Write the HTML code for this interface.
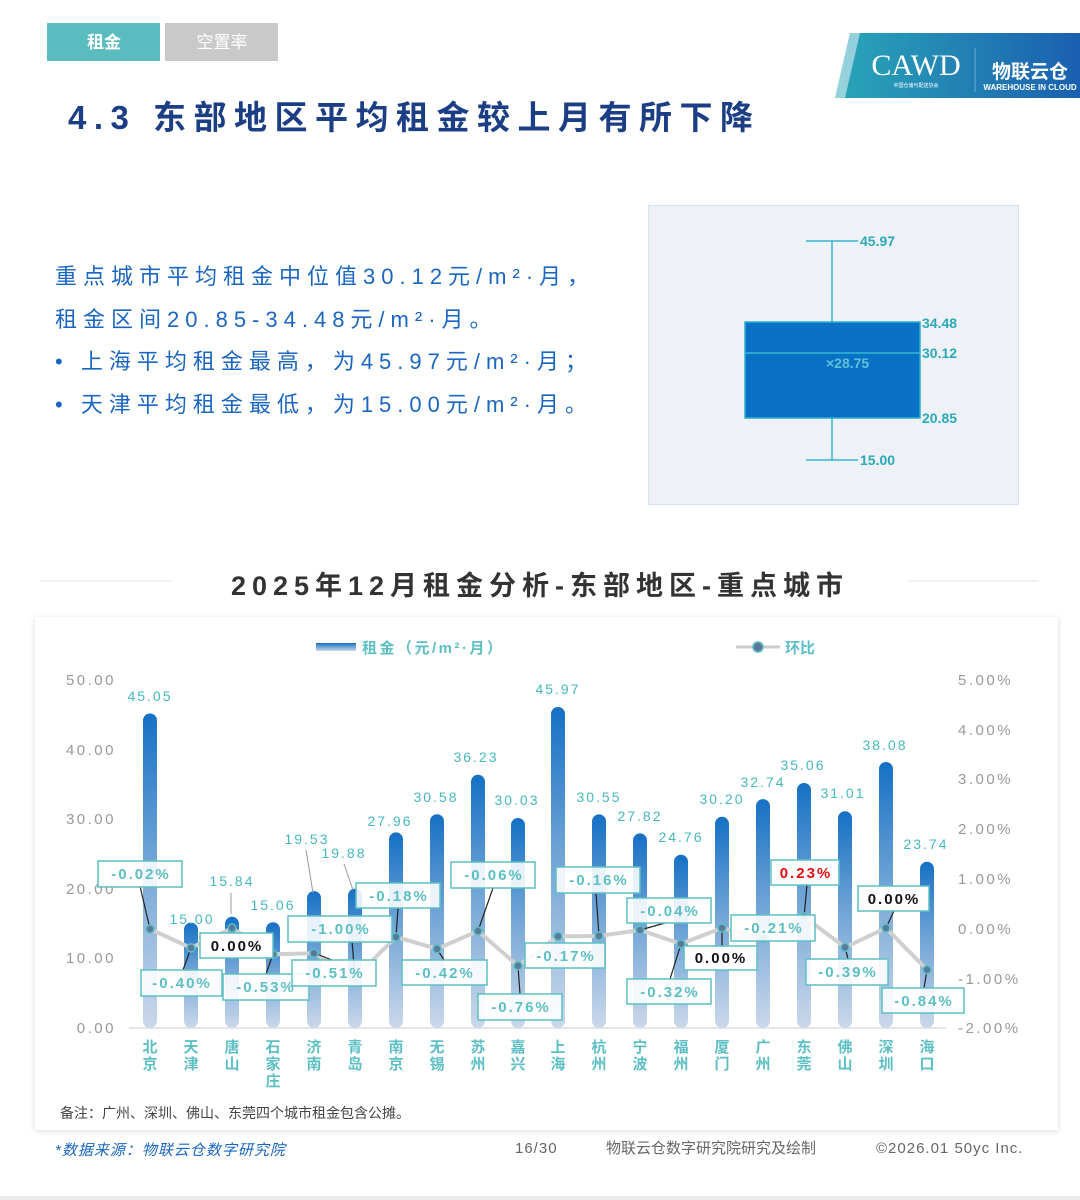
<!DOCTYPE html>
<html><head><meta charset="utf-8"><style>
html,body{margin:0;padding:0;background:#fff;}
svg{display:block;font-family:"Liberation Sans","Noto Sans CJK SC",sans-serif;}
</style></head><body>
<svg width="1080" height="1200" viewBox="0 0 1080 1200" xmlns="http://www.w3.org/2000/svg">
<defs>
<linearGradient id="bg" x1="0" y1="0" x2="0" y2="1"><stop offset="0" stop-color="#1570c4"/><stop offset="0.45" stop-color="#6ea3d6"/><stop offset="1" stop-color="#cbd8ea"/></linearGradient>
<linearGradient id="lg" x1="0" y1="0" x2="0" y2="1"><stop offset="0" stop-color="#1570c4"/><stop offset="1" stop-color="#cbd8ea"/></linearGradient>
<linearGradient id="logo" x1="0" y1="0" x2="1" y2="0"><stop offset="0" stop-color="#2aa6b8"/><stop offset="1" stop-color="#1a5fb0"/></linearGradient>
<filter id="sh" x="-5%" y="-5%" width="110%" height="110%"><feDropShadow dx="0" dy="1" stdDeviation="3" flood-color="#000" flood-opacity="0.15"/></filter>
</defs>
<rect x="0" y="1196" width="1080" height="4" fill="#eaeaea"/>
<!-- tabs -->
<rect x="47" y="23" width="113" height="38" fill="#5bbcbf"/>
<text x="104" y="48" font-size="17" fill="#fff" text-anchor="middle" font-weight="bold">租金</text>
<rect x="165" y="23" width="113" height="38" fill="#c9c9c9"/>
<text x="222" y="48" font-size="17" fill="#fff" text-anchor="middle">空置率</text>
<!-- logo -->
<polygon points="850,33 1080,33 1080,98 835,98" fill="url(#logo)"/>
<polygon points="850,33 860,33 845,98 835,98" fill="#fff" opacity="0.5"/>
<text x="916" y="75" font-size="30" fill="#fff" text-anchor="middle" font-family="Liberation Serif,serif">CAWD</text>
<text x="916" y="87" font-size="5" fill="#fff" text-anchor="middle">中国仓储与配送协会</text>
<line x1="975" y1="48" x2="975" y2="92" stroke="#fff" stroke-width="0.6" opacity="0.6"/>
<text x="1030" y="78" font-size="19" fill="#fff" text-anchor="middle" font-weight="bold">物联云仓</text>
<text x="1030" y="90" font-size="8" fill="#fff" text-anchor="middle" font-weight="bold">WAREHOUSE IN CLOUD</text>
<!-- title -->
<text x="68" y="129" font-size="33" fill="#1b3e84" font-weight="bold" letter-spacing="7.5">4.3 东部地区平均租金较上月有所下降</text>
<!-- paragraph -->
<g font-size="22" fill="#1a66c0" letter-spacing="6">
<text x="55" y="284">重点城市平均租金中位值30.12元/m²·月，</text>
<text x="55" y="327">租金区间20.85-34.48元/m²·月。</text>
<text x="55" y="369">•  上海平均租金最高，为45.97元/m²·月；</text>
<text x="55" y="412">•  天津平均租金最低，为15.00元/m²·月。</text>
</g>
<!-- boxplot -->
<rect x="648.5" y="205.5" width="370" height="299" fill="#eef2f6" stroke="#d5e3ef"/>
<g stroke="#35b6d0" stroke-width="1.5">
<line x1="806" y1="241" x2="858" y2="241"/><line x1="832" y1="241" x2="832" y2="322"/>
<line x1="806" y1="460" x2="858" y2="460"/><line x1="832" y1="418" x2="832" y2="460"/>
</g>
<rect x="745" y="322" width="175" height="96" fill="#0a72c6" stroke="#2bb0cc" stroke-width="1.5"/>
<line x1="745" y1="353" x2="920" y2="353" stroke="#35b6d0" stroke-width="1.5"/>
<g font-size="14" font-weight="bold" fill="#2ba9b8">
<text x="860" y="246">45.97</text><text x="922" y="328">34.48</text><text x="922" y="358">30.12</text><text x="922" y="423">20.85</text><text x="860" y="465">15.00</text>
</g>
<text x="826" y="368" font-size="14" fill="#5fc2d6" font-weight="bold">×28.75</text>
<!-- chart title band -->
<line x1="40" y1="581" x2="1038" y2="581" stroke="#e4e4e4"/>
<rect x="173" y="562" width="735" height="48" rx="8" fill="#fff"/>
<text x="540" y="595" font-size="27" fill="#333" text-anchor="middle" font-weight="bold" letter-spacing="6">2025年12月租金分析-东部地区-重点城市</text>
<!-- panel -->
<rect x="35" y="617" width="1023" height="513" fill="#fff" filter="url(#sh)"/>
<!-- legend -->
<rect x="316" y="643" width="40" height="8" fill="url(#lg)"/>
<text x="362" y="653" font-size="15" fill="#5cbfc4" font-weight="bold" letter-spacing="2.5">租金（元/m²·月）</text>
<line x1="736" y1="647" x2="780" y2="647" stroke="#ccc" stroke-width="3"/>
<circle cx="758" cy="647" r="5" fill="#5a7a9a" stroke="#5cbfc4" stroke-width="1.5"/>
<text x="785" y="653" font-size="15" fill="#5cbfc4" font-weight="bold">环比</text>
<!-- axes -->
<g font-size="15" fill="#999" letter-spacing="2.5">
<text x="116" y="685" text-anchor="end">50.00</text><text x="116" y="755" text-anchor="end">40.00</text><text x="116" y="824" text-anchor="end">30.00</text><text x="116" y="894" text-anchor="end">20.00</text><text x="116" y="963" text-anchor="end">10.00</text><text x="116" y="1033" text-anchor="end">0.00</text>
<text x="958" y="685">5.00%</text><text x="958" y="735">4.00%</text><text x="958" y="784">3.00%</text><text x="958" y="834">2.00%</text><text x="958" y="884">1.00%</text><text x="958" y="934">0.00%</text><text x="958" y="984">-1.00%</text><text x="958" y="1033">-2.00%</text>
</g>
<line x1="129" y1="1028" x2="946" y2="1028" stroke="#ddd" stroke-width="1.5"/>
<!-- bars -->
<g fill="url(#bg)">
<rect x="143" y="713.5" width="14" height="314.5" rx="7"/>
<rect x="184" y="922.6" width="14" height="105.4" rx="7"/>
<rect x="225" y="916.8" width="14" height="111.2" rx="7"/>
<rect x="266" y="922.2" width="14" height="105.8" rx="7"/>
<rect x="307" y="891.1" width="14" height="136.9" rx="7"/>
<rect x="348" y="888.6" width="14" height="139.4" rx="7"/>
<rect x="389" y="832.4" width="14" height="195.6" rx="7"/>
<rect x="430" y="814.2" width="14" height="213.8" rx="7"/>
<rect x="471" y="774.8" width="14" height="253.2" rx="7"/>
<rect x="511" y="818" width="14" height="210" rx="7"/>
<rect x="551" y="707" width="14" height="321" rx="7"/>
<rect x="592" y="814.4" width="14" height="213.6" rx="7"/>
<rect x="633" y="833.4" width="14" height="194.6" rx="7"/>
<rect x="674" y="854.7" width="14" height="173.3" rx="7"/>
<rect x="715" y="816.8" width="14" height="211.2" rx="7"/>
<rect x="756" y="799.1" width="14" height="228.9" rx="7"/>
<rect x="797" y="783" width="14" height="245" rx="7"/>
<rect x="838" y="811.2" width="14" height="216.8" rx="7"/>
<rect x="879" y="762" width="14" height="266" rx="7"/>
<rect x="920" y="861.8" width="14" height="166.2" rx="7"/>
</g>
<!-- value labels -->
<g font-size="14" fill="#46b8bd" text-anchor="middle" letter-spacing="2">
<text x="150" y="701">45.05</text><text x="192" y="924">15.00</text><text x="232" y="886">15.84</text><text x="273" y="910">15.06</text>
<text x="307" y="844">19.53</text><text x="344" y="858">19.88</text><text x="390" y="826">27.96</text><text x="436" y="802">30.58</text>
<text x="476" y="762">36.23</text><text x="517" y="805">30.03</text><text x="558" y="694">45.97</text><text x="599" y="802">30.55</text>
<text x="640" y="821">27.82</text><text x="681" y="842">24.76</text><text x="722" y="804">30.20</text><text x="763" y="787">32.74</text>
<text x="803" y="770">35.06</text><text x="843" y="798">31.01</text><text x="885" y="750">38.08</text><text x="926" y="849">23.74</text>
</g>
<g stroke="#999" stroke-width="1"><line x1="306" y1="850" x2="313" y2="893"/><line x1="344" y1="864" x2="353" y2="890"/><line x1="231" y1="893" x2="231" y2="914"/></g>
<!-- line -->
<polyline fill="none" stroke="#cfcfcf" stroke-width="4" points="150,929 191,947.9 232,928 273,954.3 314,953.3 355,977.7 396,936.9 437,948.9 478,931 518,965.8 558,936.4 599,936 640,930 681,943.9 722,928 763,938.4 804,916.6 845,947.4 886,928 927,969.7"/>
<!-- leaders -->
<g stroke="#222" stroke-width="1.2">
<line x1="140" y1="886" x2="150" y2="929"/><line x1="183" y1="970" x2="191" y2="948"/><line x1="266" y1="974" x2="273" y2="954"/>
<line x1="314" y1="953" x2="332" y2="960"/><line x1="352" y1="941" x2="355" y2="977"/><line x1="398" y1="908" x2="396" y2="937"/>
<line x1="437" y1="949" x2="444" y2="960"/><line x1="493" y1="888" x2="478" y2="931"/><line x1="518" y1="966" x2="520" y2="994"/>
<line x1="596" y1="893" x2="599" y2="936"/><line x1="640" y1="930" x2="665" y2="923"/><line x1="670" y1="979" x2="681" y2="944"/>
<line x1="722" y1="928" x2="722" y2="946"/><line x1="807" y1="885" x2="804" y2="917"/><line x1="845" y1="947" x2="848" y2="959"/>
<line x1="894" y1="911" x2="886" y2="928"/><line x1="927" y1="970" x2="924" y2="988"/>
</g>
<g fill="#5a7a9a" stroke="#5cbfc4" stroke-width="1.5">
<circle cx="150" cy="929" r="4"/><circle cx="191" cy="947.9" r="4"/><circle cx="232" cy="928" r="4"/><circle cx="273" cy="954.3" r="4"/><circle cx="314" cy="953.3" r="4"/><circle cx="355" cy="977.7" r="4"/><circle cx="396" cy="936.9" r="4"/><circle cx="437" cy="948.9" r="4"/><circle cx="478" cy="931" r="4"/><circle cx="518" cy="965.8" r="4"/><circle cx="558" cy="936.4" r="4"/><circle cx="599" cy="936" r="4"/><circle cx="640" cy="930" r="4"/><circle cx="681" cy="943.9" r="4"/><circle cx="722" cy="928" r="4"/><circle cx="763" cy="938.4" r="4"/><circle cx="804" cy="916.6" r="4"/><circle cx="845" cy="947.4" r="4"/><circle cx="886" cy="928" r="4"/><circle cx="927" cy="969.7" r="4"/>
</g>
<!-- pct boxes -->
<g stroke="#5cbfc4" stroke-width="1.5" fill="#fff" fill-opacity="0.88">
<rect x="98" y="861" width="84" height="26"/><rect x="141" y="970" width="81" height="26"/><rect x="223" y="974" width="86" height="26"/>
<rect x="292" y="960" width="84" height="26"/><rect x="288" y="916" width="104" height="26"/><rect x="356" y="883" width="84" height="25"/>
<rect x="402" y="960" width="85" height="25"/><rect x="451" y="862" width="84" height="26"/><rect x="478" y="994" width="84" height="26"/>
<rect x="525" y="943" width="80" height="25"/><rect x="556" y="867" width="84" height="26"/><rect x="627" y="898" width="84" height="25"/>
<rect x="627" y="979" width="84" height="25"/><rect x="731" y="915" width="84" height="26"/><rect x="806" y="959" width="82" height="26"/>
<rect x="882" y="988" width="82" height="25"/>
</g>
<g stroke="#5cbfc4" stroke-width="1.5" fill="#fff">
<rect x="200" y="933" width="73" height="25"/><rect x="684" y="946" width="73" height="24"/><rect x="771" y="860" width="68" height="25"/><rect x="858" y="886" width="71" height="25"/>
</g>
<g font-size="15" fill="#5cbfc4" text-anchor="middle" letter-spacing="2" font-weight="bold">
<text x="141" y="879">-0.02%</text><text x="182" y="988">-0.40%</text><text x="266" y="992">-0.53%</text>
<text x="335" y="978">-0.51%</text><text x="341" y="934">-1.00%</text><text x="399" y="901">-0.18%</text>
<text x="445" y="978">-0.42%</text><text x="494" y="880">-0.06%</text><text x="521" y="1012">-0.76%</text>
<text x="566" y="961">-0.17%</text><text x="599" y="885">-0.16%</text><text x="670" y="916">-0.04%</text>
<text x="670" y="997">-0.32%</text><text x="774" y="933">-0.21%</text><text x="848" y="977">-0.39%</text>
<text x="924" y="1006">-0.84%</text>
</g>
<g font-size="15" text-anchor="middle" letter-spacing="2" font-weight="bold">
<text x="237" y="951" fill="#111">0.00%</text><text x="721" y="963" fill="#111">0.00%</text><text x="806" y="878" fill="#e01010">0.23%</text><text x="894" y="904" fill="#111">0.00%</text>
</g>
<!-- city labels -->
<g font-size="15" fill="#5cbfc4" text-anchor="middle" font-weight="bold">
<text x="150" y="1052">北</text><text x="150" y="1069">京</text>
<text x="191" y="1052">天</text><text x="191" y="1069">津</text>
<text x="232" y="1052">唐</text><text x="232" y="1069">山</text>
<text x="273" y="1052">石</text><text x="273" y="1069">家</text><text x="273" y="1086">庄</text>
<text x="314" y="1052">济</text><text x="314" y="1069">南</text>
<text x="355" y="1052">青</text><text x="355" y="1069">岛</text>
<text x="396" y="1052">南</text><text x="396" y="1069">京</text>
<text x="437" y="1052">无</text><text x="437" y="1069">锡</text>
<text x="478" y="1052">苏</text><text x="478" y="1069">州</text>
<text x="518" y="1052">嘉</text><text x="518" y="1069">兴</text>
<text x="558" y="1052">上</text><text x="558" y="1069">海</text>
<text x="599" y="1052">杭</text><text x="599" y="1069">州</text>
<text x="640" y="1052">宁</text><text x="640" y="1069">波</text>
<text x="681" y="1052">福</text><text x="681" y="1069">州</text>
<text x="722" y="1052">厦</text><text x="722" y="1069">门</text>
<text x="763" y="1052">广</text><text x="763" y="1069">州</text>
<text x="804" y="1052">东</text><text x="804" y="1069">莞</text>
<text x="845" y="1052">佛</text><text x="845" y="1069">山</text>
<text x="886" y="1052">深</text><text x="886" y="1069">圳</text>
<text x="927" y="1052">海</text><text x="927" y="1069">口</text>
</g>
<text x="60" y="1118" font-size="14" fill="#444">备注：广州、深圳、佛山、东莞四个城市租金包含公摊。</text>
<!-- footer -->
<text x="55" y="1155" font-size="15" fill="#1a66c0" font-style="italic" letter-spacing="1">*数据来源：物联云仓数字研究院</text>
<text x="515" y="1153" font-size="15" fill="#666" letter-spacing="1">16/30</text>
<text x="606" y="1153" font-size="15" fill="#666">物联云仓数字研究院研究及绘制</text>
<text x="876" y="1153" font-size="15" fill="#666" letter-spacing="1">©2026.01 50yc Inc.</text>
</svg>
</body></html>
